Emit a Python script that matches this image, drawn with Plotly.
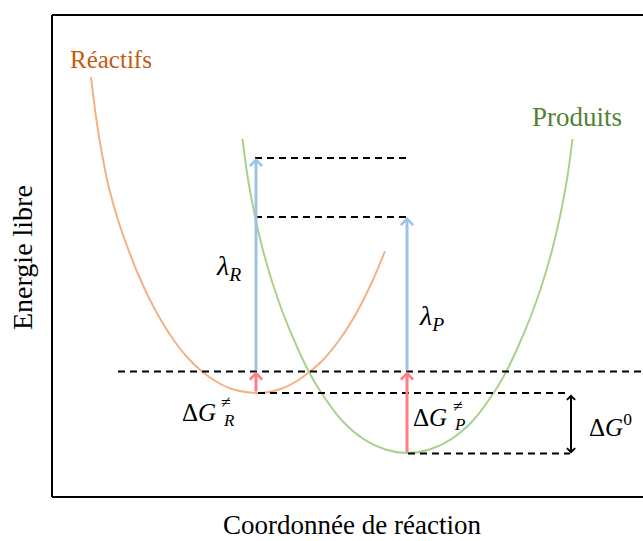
import plotly.graph_objects as go

# courbes d'énergie libre (unités arbitraires)
react_x = [39, 44, 50, 57, 66, 75, 86, 98, 110, 122, 135, 150, 165, 180, 205,
           215, 230, 245, 256, 270, 288, 305, 320, 333]
react_y = [420, 380, 343, 309, 277, 251, 223, 197, 175, 156.5, 140, 125.5, 115, 108, 104,
           104.7, 108.5, 116, 124, 136, 158, 185, 215, 246]
prod_x = [190.5, 195.5, 202.5, 210.5, 220.5, 231.5, 245.5, 256.5, 267.5, 289.5, 311.5, 333.5, 355.5,
          377.5, 399.5, 421.5, 443.5, 454.5, 465.5, 479.5, 490.5, 500.5, 508.5, 515.5, 520.5]
prod_y = [358, 321, 283, 248.5, 214, 182.5, 149, 126, 107, 77, 58, 47.5, 44,
          47.5, 58, 77, 107, 126, 149, 182.5, 214, 248.5, 283, 321, 358]

# niveaux et positions caractéristiques
x_r = 204          # minimum des réactifs
x_p = 355          # minimum des produits
x_dg0 = 519
g_r = 104          # G minimum réactifs
g_p = 43.5         # G minimum produits
g_ts = 125.5       # croisement / état de transition
lam_r_top = 339
lam_p_top = 280

# traits pointillés : (x0, x1, y)
dash_levels = [
    (203, 356, lam_r_top),
    (203, 356, lam_p_top),
    (66, 591, g_ts),
    (206, 518, g_r),
    (356, 518, g_p),
]

BLUE = '#9DC3E6'
RED = '#FF7C80'
SERIF = 'Liberation Serif'

fig = go.Figure()
fig.add_trace(go.Scatter(x=react_x, y=react_y, mode='lines',
                         line=dict(color='#F4B183', width=2, shape='spline'),
                         hoverinfo='skip'))
fig.add_trace(go.Scatter(x=prod_x, y=prod_y, mode='lines',
                         line=dict(color='#A9D18E', width=2, shape='spline'),
                         hoverinfo='skip'))

for x0, x1, y in dash_levels:
    fig.add_shape(type='line', x0=x0, x1=x1, y0=y, y1=y, xref='x', yref='y',
                  line=dict(color='black', width=2, dash='7px,5px'))

# cadre (pas de bord droit : il sort de l'image)
for x0, y0, x1, y1 in [(0, 0, 0, 1), (0, 1, 1, 1), (0, 0, 1, 0)]:
    fig.add_shape(type='line', xref='paper', yref='paper', x0=x0, y0=y0, x1=x1, y1=y1,
                  line=dict(color='black', width=2))


def arrow(x, y_from, y_to, color, width, both=False):
    fig.add_annotation(x=x, y=y_to, ax=x, ay=y_from, xref='x', yref='y',
                       axref='x', ayref='y', text='', showarrow=True,
                       arrowhead=4, arrowsize=0.8, arrowwidth=width,
                       arrowcolor=color, arrowside='end+start' if both else 'end',
                       startarrowhead=4, startarrowsize=0.8)


arrow(x_r, g_ts, lam_r_top, BLUE, 3)
arrow(x_p, g_ts, lam_p_top, BLUE, 3)
arrow(x_r, g_r, g_ts, RED, 3)
arrow(x_p, g_p, g_ts, RED, 3)
arrow(x_dg0, g_r, g_p, 'black', 2, both=True)


def label(x, y, text, size=24, color='black'):
    fig.add_annotation(x=x, y=y, xref='x', yref='y', text=text, showarrow=False,
                       font=dict(family=SERIF, size=size, color=color))


label(59, 438, 'Réactifs', 25, '#C55A11')
label(525, 380, 'Produits', 27, '#548235')
label(176, 230, '<i>λ</i><sub><i>R</i></sub>', 28)
label(379, 180, '<i>λ</i><sub><i>P</i></sub>', 28)
label(147, 85, 'Δ<i>G</i>', 25)
label(174, 95, '≠', 18)
label(177, 77, '<i>R</i>', 17)
label(378, 80, 'Δ<i>G</i>', 25)
label(406, 91, '≠', 18)
label(407, 73, '<i>P</i>', 17)
label(558, 72, 'Δ<i>G</i><sup>0</sup>', 25)

fig.add_annotation(x=-30 / 591, y=239 / 482, xref='paper', yref='paper',
                   xanchor='center', yanchor='middle',
                   text='Energie libre', textangle=-90, showarrow=False,
                   font=dict(family=SERIF, size=28, color='black'))
fig.add_annotation(x=300 / 591, y=-44 / 482, xref='paper', yref='paper',
                   xanchor='center', yanchor='bottom', borderpad=0,
                   text='Coordonnée de réaction', showarrow=False,
                   font=dict(family=SERIF, size=27, color='black'))

fig.update_xaxes(range=[0, 591], visible=False)
fig.update_yaxes(range=[0, 482], visible=False)
fig.update_layout(width=643, height=541, showlegend=False,
                  margin=dict(l=52, r=0, t=15, b=44),
                  plot_bgcolor='white', paper_bgcolor='white')

fig.write_html('out.html', config={'displayModeBar': False},
               post_script="document.body.style.margin='0';")
